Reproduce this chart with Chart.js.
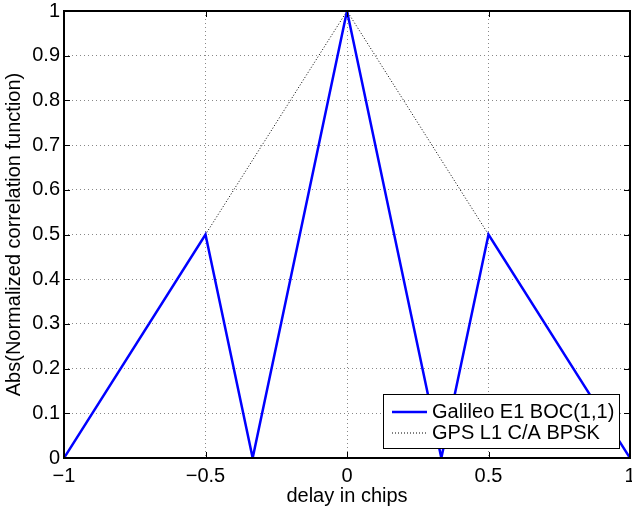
<!DOCTYPE html>
<html>
<head>
<meta charset="utf-8">
<script src="https://cdn.jsdelivr.net/npm/chart.js@4"></script>
<style>
  html, body { margin: 0; padding: 0; background: #fff; }
  #wrap { width: 632px; height: 508px; }
</style>
</head>
<body>
<div id="wrap"><canvas id="corrChart" width="632" height="508"></canvas></div>
<script>
// delay (chips) and |R(tau)| for each signal
const bocDelay = [-1, -0.5, -1 / 3, 0, 1 / 3, 0.5, 1];
const bocCorr = [0, 0.5, 0, 1, 0, 0.5, 0];
const bpskDelay = [-1, 0, 1];
const bpskCorr = [0, 1, 0];
const seriesNames = ['Galileo E1 BOC(1,1)', 'GPS L1 C/A BPSK'];
const xTicks = [-1, -0.5, 0, 0.5, 1];
const yTicks = [0, 0.1, 0.2, 0.3, 0.4, 0.5, 0.6, 0.7, 0.8, 0.9, 1];

const FONT = '"Liberation Sans", Arial, Helvetica, sans-serif';
const FSIZE = 20;

const toPoints = (xs, ys) => xs.map((x, i) => ({ x: x, y: ys[i] }));
const fmt = v => String(Math.round(v * 10) / 10).replace('-', '\u2212');

// box around the axes with matlab-style inward ticks, plus the legend
const boxPlugin = {
  id: 'boxPlugin',
  afterDatasetsDraw(chart) {
    const { ctx, chartArea: a, scales } = chart;
    const len = 6;
    ctx.save();
    ctx.strokeStyle = '#000';
    ctx.lineWidth = 1;
    ctx.beginPath();
    scales.x.ticks.forEach(t => {
      const px = Math.round(scales.x.getPixelForValue(t.value)) + 0.5;
      ctx.moveTo(px, a.bottom); ctx.lineTo(px, a.bottom - len);
      ctx.moveTo(px, a.top); ctx.lineTo(px, a.top + len);
    });
    scales.y.ticks.forEach(t => {
      const py = Math.round(scales.y.getPixelForValue(t.value)) + 0.5;
      ctx.moveTo(a.left, py); ctx.lineTo(a.left + len, py);
      ctx.moveTo(a.right, py); ctx.lineTo(a.right - len, py);
    });
    ctx.stroke();
    ctx.lineWidth = 2;
    ctx.strokeRect(a.left, a.top, a.right - a.left, a.bottom - a.top);

    // legend in lower right corner
    const lx = 383, ly = 394, lw = 236, lh = 54;
    ctx.fillStyle = '#fff';
    ctx.fillRect(lx, ly, lw, lh);
    ctx.lineWidth = 1;
    ctx.strokeRect(lx + 0.5, ly + 0.5, lw, lh);
    ctx.font = FSIZE + 'px ' + FONT;
    ctx.textBaseline = 'middle';
    chart.data.datasets.forEach((ds, i) => {
      const y = ly + 18 + i * 21;
      ctx.strokeStyle = ds.borderColor;
      ctx.lineWidth = ds.borderWidth;
      ctx.setLineDash(ds.borderDash || []);
      ctx.beginPath();
      ctx.moveTo(392, y); ctx.lineTo(427, y);
      ctx.stroke();
      ctx.setLineDash([]);
      ctx.fillStyle = '#000';
      ctx.fillText(ds.label, 432, y);
    });
    ctx.restore();
  }
};

new Chart(document.getElementById('corrChart'), {
  type: 'line',
  data: {
    datasets: [
      {
        label: seriesNames[0],
        data: toPoints(bocDelay, bocCorr),
        borderColor: '#0000ff',
        borderWidth: 2.5,
        pointRadius: 0,
        tension: 0,
        fill: false
      },
      {
        label: seriesNames[1],
        data: toPoints(bpskDelay, bpskCorr),
        borderColor: '#000',
        borderWidth: 1,
        borderDash: [1, 2],
        pointRadius: 0,
        tension: 0,
        fill: false
      }
    ]
  },
  options: {
    responsive: false,
    animation: false,
    layout: { padding: { top: 11, right: 2, left: 0, bottom: 0 } },
    plugins: { legend: { display: false }, tooltip: { enabled: false } },
    scales: {
      x: {
        type: 'linear',
        min: -1,
        max: 1,
        afterBuildTicks: s => { s.ticks = xTicks.map(v => ({ value: v })); },
        afterFit: s => { s.height = 50; s.paddingLeft = 0; s.paddingRight = 0; },
        ticks: {
          color: '#000',
          padding: 6,
          maxRotation: 0,
          font: { family: FONT, size: FSIZE },
          callback: v => fmt(v)
        },
        grid: { color: '#888', lineWidth: 1, drawTicks: false },
        border: { display: false, dash: [1, 3] },
        title: {
          display: true,
          text: 'delay in chips',
          color: '#000',
          font: { family: FONT, size: FSIZE },
          padding: { top: 0, bottom: 0 }
        }
      },
      y: {
        type: 'linear',
        min: 0,
        max: 1,
        afterBuildTicks: s => { s.ticks = yTicks.map(v => ({ value: v })); },
        afterFit: s => { s.width = 64; s.paddingTop = 0; s.paddingBottom = 0; },
        ticks: {
          color: '#000',
          padding: 4,
          font: { family: FONT, size: FSIZE },
          callback: v => fmt(v)
        },
        grid: { color: '#888', lineWidth: 1, drawTicks: false },
        border: { display: false, dash: [1, 3] },
        title: {
          display: true,
          text: 'Abs(Normalized correlation function)',
          color: '#000',
          font: { family: FONT, size: FSIZE },
          padding: { top: 2, bottom: 0 }
        }
      }
    }
  },
  plugins: [boxPlugin]
});
</script>
</body>
</html>
